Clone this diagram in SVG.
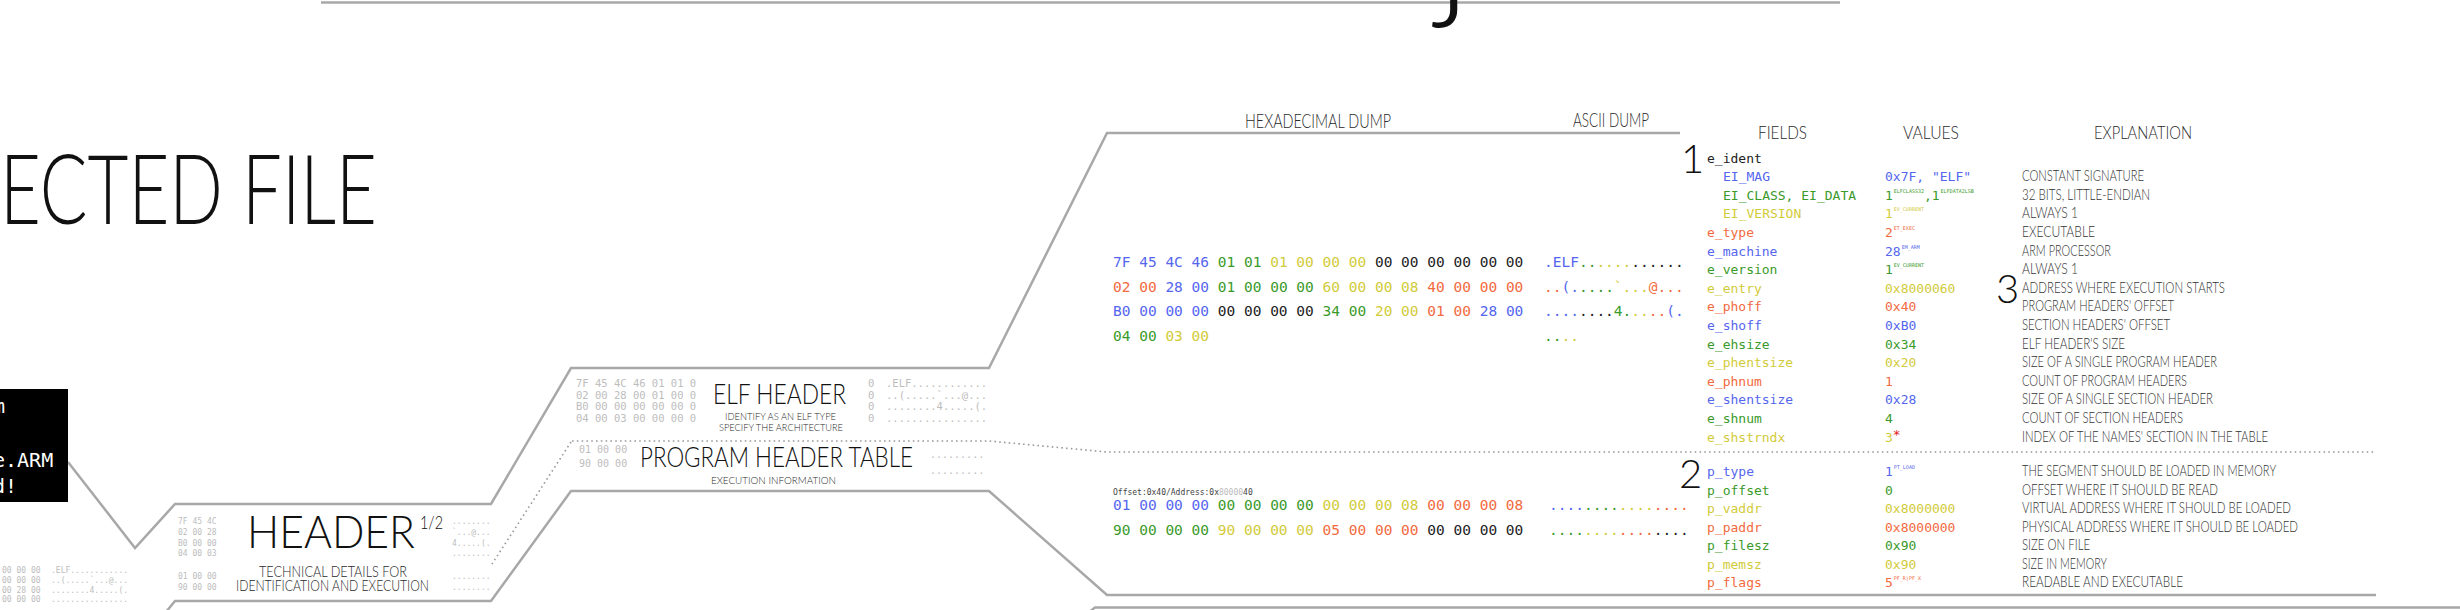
<svg xmlns="http://www.w3.org/2000/svg" width="2460" height="610" viewBox="0 0 2460 610">
<defs>
<style>
.hand{font-family:Lato,'Liberation Sans','DejaVu Sans',sans-serif;font-weight:300;fill:#2a2a2a}
.mono{font-family:'DejaVu Sans Mono','Liberation Mono',monospace}
.line{fill:none;stroke:#a8a8a8;stroke-width:2.5;stroke-linejoin:miter}
.dot{fill:none;stroke:#999;stroke-width:1.6;stroke-dasharray:1.6 3.2}
.b{fill:#5566ee}.g{fill:#3a9a2a}.y{fill:#d2cb3a}.o{fill:#f26a3e}.k{fill:#222}
.gr{fill:#bdbdbd}
.sm{font-family:'DejaVu Sans Mono','Liberation Mono',monospace;font-size:8px;fill:#bdbdbd}
.hx{font-family:'DejaVu Sans Mono','Liberation Mono',monospace;font-size:14.5px}
.fd{font-family:'DejaVu Sans Mono','Liberation Mono',monospace;font-size:13px}
.sup{font-size:5px}
.ex{font-family:Lato,'Liberation Sans',sans-serif;font-weight:300;font-size:15px;fill:#333}
.num{font-family:Lato,'Liberation Sans',sans-serif;font-weight:300;font-size:40px;fill:#111}
</style>
</defs>
<rect width="2460" height="610" fill="#ffffff"/>

<g id="connectors">
<line class="line" x1="321" y1="2.5" x2="1840" y2="2.5"/>
<path class="line" d="M68,462 L135,548 L175,504 L491,504 L571,368 L989,368 L1107,133 L1680,133"/>
<path class="line" d="M166,612 L175,601 L491,601 L571,491 L989,491 L1107,595 L2376,595"/>
<path class="line" d="M1088,613 L1095,607.5 L2460,607.5"/>
<path class="dot" d="M571,442 L492,564"/>
<path class="dot" d="M572,441 L989,441 L1107,452 L2376,452"/>
</g>

<g id="title">
<text class="hand" x="1437" y="0" font-size="150" style="fill:#111">j</text>
<text class="hand" x="0" y="224" font-size="97" textLength="377" lengthAdjust="spacingAndGlyphs" style="fill:#111">ECTED FILE</text>
</g>

<g id="terminal">
<rect x="-5" y="389" width="73" height="113" fill="#000"/>
<text class="mono" font-size="20" fill="#fff" x="-7" y="413">m</text>
<text class="mono" font-size="20" fill="#fff" x="-7" y="467">e.ARM</text>
<text class="mono" font-size="20" fill="#fff" x="-7" y="493">d!</text>
</g>

<g id="prev-dump">
<text class="sm" x="2" y="573">00 00 00</text>
<text class="sm" x="2" y="583">00 00 00</text>
<text class="sm" x="2" y="592.5">00 28 00</text>
<text class="sm" x="2" y="602">00 00 00</text>
<text class="sm" x="51" y="573">.ELF............</text>
<text class="sm" x="51" y="583">..(.....`...@...</text>
<text class="sm" x="51" y="592.5">........4.....(.</text>
<text class="sm" x="51" y="602">................</text>
</g>

<g id="header-node">
<text class="sm" x="178" y="524">7F 45 4C</text>
<text class="sm" x="178" y="535">02 00 28</text>
<text class="sm" x="178" y="545.5">B0 00 00</text>
<text class="sm" x="178" y="556">04 00 03</text>
<text class="sm" x="178" y="579">01 00 00</text>
<text class="sm" x="178" y="590">90 00 00</text>
<text class="sm" x="452" y="524">........</text>
<text class="sm" x="452" y="535">`...@...</text>
<text class="sm" x="452" y="545.5">4.....(.</text>
<text class="sm" x="452" y="556">........</text>
<text class="sm" x="452" y="579">........</text>
<text class="sm" x="452" y="590">........</text>
<text class="hand" x="247" y="548" font-size="46" textLength="168" lengthAdjust="spacingAndGlyphs" style="fill:#111">HEADER</text>
<text class="hand" x="420" y="529" font-size="17" textLength="23" lengthAdjust="spacingAndGlyphs" style="fill:#111">1/2</text>
<text class="hand" x="259" y="577" font-size="16" textLength="148" lengthAdjust="spacingAndGlyphs">TECHNICAL DETAILS FOR</text>
<text class="hand" x="236" y="591" font-size="16" textLength="193" lengthAdjust="spacingAndGlyphs">IDENTIFICATION AND EXECUTION</text>
</g>

<g id="elf-header-node">
<text class="mono gr" font-size="10.5" x="576" y="387">7F 45 4C 46 01 01 0</text>
<text class="mono gr" font-size="10.5" x="576" y="398.5">02 00 28 00 01 00 0</text>
<text class="mono gr" font-size="10.5" x="576" y="410">B0 00 00 00 00 00 0</text>
<text class="mono gr" font-size="10.5" x="576" y="421.5">04 00 03 00 00 00 0</text>
<text class="mono gr" font-size="10.5" x="868" y="387">0</text>
<text class="mono gr" font-size="10.5" x="868" y="398.5">0</text>
<text class="mono gr" font-size="10.5" x="868" y="410">0</text>
<text class="mono gr" font-size="10.5" x="868" y="421.5">0</text>
<text class="mono gr" font-size="10.5" x="886" y="387">.ELF............</text>
<text class="mono gr" font-size="10.5" x="886" y="398.5">..(.....`...@...</text>
<text class="mono gr" font-size="10.5" x="886" y="410">........4.....(.</text>
<text class="mono gr" font-size="10.5" x="886" y="421.5">................</text>
<text class="hand" x="713" y="404" font-size="28" textLength="133" lengthAdjust="spacingAndGlyphs" style="fill:#111">ELF HEADER</text>
<text class="hand" x="725" y="420" font-size="10" textLength="111" lengthAdjust="spacingAndGlyphs">IDENTIFY AS AN ELF TYPE</text>
<text class="hand" x="719" y="431" font-size="10" textLength="124" lengthAdjust="spacingAndGlyphs">SPECIFY THE ARCHITECTURE</text>
</g>

<g id="program-header-node">
<text class="mono gr" font-size="10" x="579" y="453">01 00 00</text>
<text class="mono gr" font-size="10" x="579" y="467">90 00 00</text>
<text class="mono gr" font-size="10" x="930" y="458">.........</text>
<text class="mono gr" font-size="10" x="930" y="474">.........</text>
<text class="hand" x="640" y="467" font-size="27" textLength="273" lengthAdjust="spacingAndGlyphs" style="fill:#111">PROGRAM HEADER TABLE</text>
<text class="hand" x="711" y="484" font-size="10" textLength="125" lengthAdjust="spacingAndGlyphs">EXECUTION INFORMATION</text>
</g>

<g id="hex-dump">
<text class="hand" x="1245" y="128" font-size="19" textLength="146" lengthAdjust="spacingAndGlyphs">HEXADECIMAL DUMP</text>
<text class="hand" x="1573" y="127" font-size="19" textLength="76" lengthAdjust="spacingAndGlyphs">ASCII DUMP</text>
<text class="hx" x="1113" y="267"><tspan class="b">7F 45 4C 46 </tspan><tspan class="g">01 01 </tspan><tspan class="y">01 00 00 00 </tspan><tspan class="k">00 00 00 00 00 00</tspan></text>
<text class="hx" x="1113" y="291.5"><tspan class="o">02 00 </tspan><tspan class="b">28 00 </tspan><tspan class="g">01 00 00 00 </tspan><tspan class="y">60 00 00 08 </tspan><tspan class="o">40 00 00 00</tspan></text>
<text class="hx" x="1113" y="316"><tspan class="b">B0 00 00 00 </tspan><tspan class="k">00 00 00 00 </tspan><tspan class="g">34 00 </tspan><tspan class="y">20 00 </tspan><tspan class="o">01 00 </tspan><tspan class="b">28 00</tspan></text>
<text class="hx" x="1113" y="340.5"><tspan class="g">04 00 </tspan><tspan class="y">03 00</tspan></text>
<text class="hx" x="1544" y="267"><tspan class="b">.ELF</tspan><tspan class="g">..</tspan><tspan class="y">....</tspan><tspan class="k">......</tspan></text>
<text class="hx" x="1544" y="291.5"><tspan class="o">..</tspan><tspan class="b">(.</tspan><tspan class="g">....</tspan><tspan class="y">`...</tspan><tspan class="o">@...</tspan></text>
<text class="hx" x="1544" y="316"><tspan class="b">....</tspan><tspan class="k">....</tspan><tspan class="g">4.</tspan><tspan class="y">..</tspan><tspan class="o">..</tspan><tspan class="b">(.</tspan></text>
<text class="hx" x="1544" y="340.5"><tspan class="g">..</tspan><tspan class="y">..</tspan></text>
</g>

<g id="ph-dump">
<text class="mono" font-size="8" x="1113" y="495" fill="#444">Offset:0x40/Address:0x<tspan fill="#bbb">80000</tspan>40</text>
<text class="hx" x="1113" y="510"><tspan class="b">01 00 00 00 </tspan><tspan class="g">00 00 00 00 </tspan><tspan class="y">00 00 00 08 </tspan><tspan class="o">00 00 00 08</tspan></text>
<text class="hx" x="1113" y="535"><tspan class="g">90 00 00 00 </tspan><tspan class="y">90 00 00 00 </tspan><tspan class="o">05 00 00 00 </tspan><tspan class="k">00 00 00 00</tspan></text>
<text class="hx" x="1549" y="510"><tspan class="b">....</tspan><tspan class="g">....</tspan><tspan class="y">....</tspan><tspan class="o">....</tspan></text>
<text class="hx" x="1549" y="535"><tspan class="g">....</tspan><tspan class="y">....</tspan><tspan class="o">....</tspan><tspan class="k">....</tspan></text>
</g>

<g id="fields-table">
<text class="hand" x="1758" y="139" font-size="18" textLength="49" lengthAdjust="spacingAndGlyphs">FIELDS</text>
<text class="hand" x="1903" y="139" font-size="18" textLength="56" lengthAdjust="spacingAndGlyphs">VALUES</text>
<text class="hand" x="2094" y="139" font-size="18" textLength="98" lengthAdjust="spacingAndGlyphs">EXPLANATION</text>
<text class="num" x="1681" y="173">1</text>
<text class="num" x="1996" y="303">3</text>
<text class="num" x="1679" y="488">2</text>

<text class="fd k" x="1707" y="162.5">e_ident</text>
<text class="fd b" x="1723" y="181.1">EI_MAG</text>
<text class="fd g" x="1723" y="199.7">EI_CLASS, EI_DATA</text>
<text class="fd y" x="1723" y="218.3">EI_VERSION</text>
<text class="fd o" x="1707" y="236.9">e_type</text>
<text class="fd b" x="1707" y="255.5">e_machine</text>
<text class="fd g" x="1707" y="274.1">e_version</text>
<text class="fd y" x="1707" y="292.7">e_entry</text>
<text class="fd o" x="1707" y="311.3">e_phoff</text>
<text class="fd b" x="1707" y="329.9">e_shoff</text>
<text class="fd g" x="1707" y="348.5">e_ehsize</text>
<text class="fd y" x="1707" y="367.1">e_phentsize</text>
<text class="fd o" x="1707" y="385.7">e_phnum</text>
<text class="fd b" x="1707" y="404.3">e_shentsize</text>
<text class="fd g" x="1707" y="422.9">e_shnum</text>
<text class="fd y" x="1707" y="441.5">e_shstrndx</text>

<text class="fd b" x="1885" y="181.1">0x7F, "ELF"</text>
<text class="fd g" x="1885" y="199.7">1<tspan class="sup" dx="1" dy="-7">ELFCLASS32</tspan><tspan dy="7">,</tspan>1<tspan class="sup" dx="1" dy="-7">ELFDATA2LSB</tspan></text>
<text class="fd y" x="1885" y="218.3">1<tspan class="sup" dx="1" dy="-7">EV_CURRENT</tspan></text>
<text class="fd o" x="1885" y="236.9">2<tspan class="sup" dx="1" dy="-7">ET_EXEC</tspan></text>
<text class="fd b" x="1885" y="255.5">28<tspan class="sup" dx="1" dy="-7">EM_ARM</tspan></text>
<text class="fd g" x="1885" y="274.1">1<tspan class="sup" dx="1" dy="-7">EV_CURRENT</tspan></text>
<text class="fd y" x="1885" y="292.7">0x8000060</text>
<text class="fd o" x="1885" y="311.3">0x40</text>
<text class="fd b" x="1885" y="329.9">0xB0</text>
<text class="fd g" x="1885" y="348.5">0x34</text>
<text class="fd y" x="1885" y="367.1">0x20</text>
<text class="fd o" x="1885" y="385.7">1</text>
<text class="fd b" x="1885" y="404.3">0x28</text>
<text class="fd g" x="1885" y="422.9">4</text>
<text class="fd y" x="1885" y="441.5">3<tspan fill="#e52222" dy="-3">*</tspan></text>

<text class="ex" x="2022" y="181.1" textLength="122" lengthAdjust="spacingAndGlyphs">CONSTANT SIGNATURE</text>
<text class="ex" x="2022" y="199.7" textLength="128" lengthAdjust="spacingAndGlyphs">32 BITS, LITTLE-ENDIAN</text>
<text class="ex" x="2022" y="218.3" textLength="56" lengthAdjust="spacingAndGlyphs">ALWAYS 1</text>
<text class="ex" x="2022" y="236.9" textLength="73" lengthAdjust="spacingAndGlyphs">EXECUTABLE</text>
<text class="ex" x="2022" y="255.5" textLength="89" lengthAdjust="spacingAndGlyphs">ARM PROCESSOR</text>
<text class="ex" x="2022" y="274.1" textLength="56" lengthAdjust="spacingAndGlyphs">ALWAYS 1</text>
<text class="ex" x="2022" y="292.7" textLength="203" lengthAdjust="spacingAndGlyphs">ADDRESS WHERE EXECUTION STARTS</text>
<text class="ex" x="2022" y="311.3" textLength="152" lengthAdjust="spacingAndGlyphs">PROGRAM HEADERS' OFFSET</text>
<text class="ex" x="2022" y="329.9" textLength="148" lengthAdjust="spacingAndGlyphs">SECTION HEADERS' OFFSET</text>
<text class="ex" x="2022" y="348.5" textLength="103" lengthAdjust="spacingAndGlyphs">ELF HEADER'S SIZE</text>
<text class="ex" x="2022" y="367.1" textLength="195" lengthAdjust="spacingAndGlyphs">SIZE OF A SINGLE PROGRAM HEADER</text>
<text class="ex" x="2022" y="385.7" textLength="165" lengthAdjust="spacingAndGlyphs">COUNT OF PROGRAM HEADERS</text>
<text class="ex" x="2022" y="404.3" textLength="191" lengthAdjust="spacingAndGlyphs">SIZE OF A SINGLE SECTION HEADER</text>
<text class="ex" x="2022" y="422.9" textLength="161" lengthAdjust="spacingAndGlyphs">COUNT OF SECTION HEADERS</text>
<text class="ex" x="2022" y="441.5" textLength="246" lengthAdjust="spacingAndGlyphs">INDEX OF THE NAMES' SECTION IN THE TABLE</text>

<text class="fd b" x="1707" y="476">p_type</text>
<text class="fd g" x="1707" y="494.5">p_offset</text>
<text class="fd y" x="1707" y="513">p_vaddr</text>
<text class="fd o" x="1707" y="531.5">p_paddr</text>
<text class="fd g" x="1707" y="550">p_filesz</text>
<text class="fd y" x="1707" y="568.5">p_memsz</text>
<text class="fd o" x="1707" y="587">p_flags</text>

<text class="fd b" x="1885" y="476">1<tspan class="sup" dx="1" dy="-7">PT_LOAD</tspan></text>
<text class="fd g" x="1885" y="494.5">0</text>
<text class="fd y" x="1885" y="513">0x8000000</text>
<text class="fd o" x="1885" y="531.5">0x8000000</text>
<text class="fd g" x="1885" y="550">0x90</text>
<text class="fd y" x="1885" y="568.5">0x90</text>
<text class="fd o" x="1885" y="587">5<tspan class="sup" dx="1" dy="-7">PF_R|PF_X</tspan></text>

<text class="ex" x="2022" y="476" textLength="254" lengthAdjust="spacingAndGlyphs">THE SEGMENT SHOULD BE LOADED IN MEMORY</text>
<text class="ex" x="2022" y="494.5" textLength="196" lengthAdjust="spacingAndGlyphs">OFFSET WHERE IT SHOULD BE READ</text>
<text class="ex" x="2022" y="513" textLength="269" lengthAdjust="spacingAndGlyphs">VIRTUAL ADDRESS WHERE IT SHOULD BE LOADED</text>
<text class="ex" x="2022" y="531.5" textLength="276" lengthAdjust="spacingAndGlyphs">PHYSICAL ADDRESS WHERE IT SHOULD BE LOADED</text>
<text class="ex" x="2022" y="550" textLength="68" lengthAdjust="spacingAndGlyphs">SIZE ON FILE</text>
<text class="ex" x="2022" y="568.5" textLength="85" lengthAdjust="spacingAndGlyphs">SIZE IN MEMORY</text>
<text class="ex" x="2022" y="587" textLength="161" lengthAdjust="spacingAndGlyphs">READABLE AND EXECUTABLE</text>
</g>
</svg>
